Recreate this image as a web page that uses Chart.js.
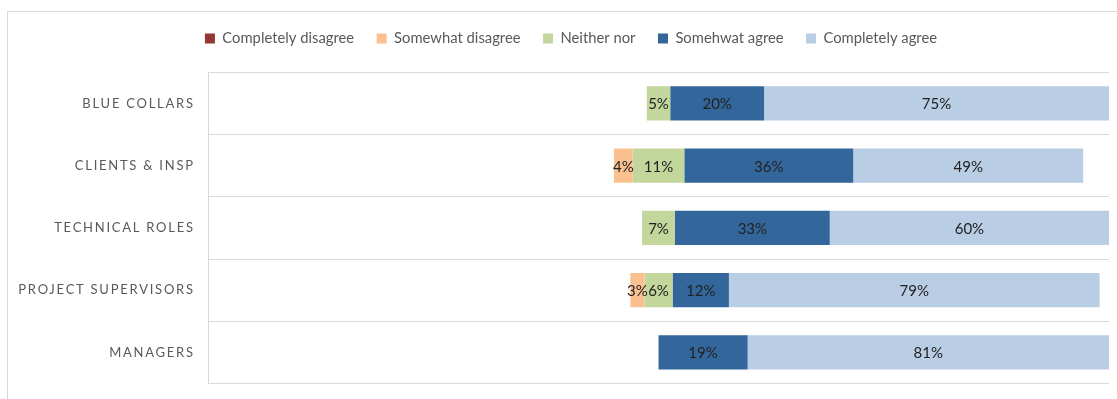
<!DOCTYPE html>
<html>
<head>
<meta charset="utf-8">
<title>Agreement by role</title>
<script src="https://cdn.jsdelivr.net/npm/chart.js@4.4.0/dist/chart.umd.min.js"></script>
<style>
  html, body { margin: 0; padding: 0; background: #ffffff; }
  #wrap { position: relative; width: 1117px; height: 399px; overflow: hidden; }
  #frame { position: absolute; left: 7px; top: 11px; width: 1200px; height: 500px;
           border: 1px solid #d9d9d9; box-sizing: border-box; }
  #wrap canvas { position: absolute; left: 0; top: 0; }
</style>
</head>
<body>
<div id="wrap">
  <div id="frame"></div>
  <canvas id="chart" width="1117" height="399"></canvas>
</div>
<script>
// Survey answers per role, in percent
const categories = ['BLUE COLLARS', 'CLIENTS & INSP', 'TECHNICAL ROLES', 'PROJECT SUPERVISORS', 'MANAGERS'];
const seriesNames = ['Completely disagree', 'Somewhat disagree', 'Neither nor', 'Somehwat agree', 'Completely agree'];
const completelyDisagree = [0, 0, 0, 0, 0];
const somewhatDisagree   = [0, 4, 0, 3, 0];
const neitherNor         = [5, 11, 7, 6, 0];
const somewhatAgree      = [20, 36, 33, 12, 19];
const completelyAgree    = [75, 49, 60, 79, 81];
const axisMin = -96;
const axisMax = 96;

const seriesValues = [completelyDisagree, somewhatDisagree, neitherNor, somewhatAgree, completelyAgree];
const seriesColors = ['#953735', '#fac090', '#c3d69b', '#33669a', '#b9cde5'];
const FONT = 'Lato, "Open Sans", sans-serif';

// Diverging layout: the neutral answer is split around zero,
// disagreement grows to the left, agreement to the right.
function segmentsFor(k) {
  const half = neitherNor[k] / 2;
  const sd = somewhatDisagree[k];
  const cd = completelyDisagree[k];
  const sa = somewhatAgree[k];
  const ca = completelyAgree[k];
  return [
    [-half - sd - cd, -half - sd],
    [-half - sd, -half],
    [-half, half],
    [half, half + sa],
    [half + sa, half + sa + ca]
  ];
}

const datasets = seriesNames.map((name, i) => ({
  label: name,
  data: categories.map((_, k) => seriesValues[i][k] > 0 ? segmentsFor(k)[i] : null),
  backgroundColor: seriesColors[i],
  borderWidth: 0,
  grouped: false,
  categoryPercentage: 0.55,
  barPercentage: 1
}));

// Percentage printed in the middle of each visible segment
const segmentLabels = {
  id: 'segmentLabels',
  afterDatasetsDraw(chart) {
    const { ctx, chartArea } = chart;
    ctx.save();
    ctx.font = '15px ' + FONT;
    ctx.fillStyle = '#222222';
    ctx.textAlign = 'center';
    ctx.textBaseline = 'middle';
    chart.data.datasets.forEach((ds, i) => {
      const meta = chart.getDatasetMeta(i);
      meta.data.forEach((bar, k) => {
        const v = seriesValues[i][k];
        if (!v) return;
        const { x, base, y } = bar.getProps(['x', 'base', 'y'], true);
        const l = Math.max(Math.min(x, base), chartArea.left);
        const r = Math.min(Math.max(x, base), chartArea.right);
        ctx.fillText(v + '%', (l + r) / 2, y + 1);
      });
    });
    ctx.restore();
  }
};

// Spaced-out role names to the left of the plot
const roleLabels = {
  id: 'roleLabels',
  afterDraw(chart) {
    const { ctx, chartArea } = chart;
    const yScale = chart.scales.y;
    const spacing = 1.75;
    ctx.save();
    ctx.font = '13px ' + FONT;
    ctx.letterSpacing = spacing + 'px';
    ctx.fillStyle = '#595959';
    ctx.textAlign = 'right';
    ctx.textBaseline = 'middle';
    categories.forEach((name, k) => {
      ctx.fillText(name, chartArea.left - 15 + spacing, yScale.getPixelForValue(k));
    });
    ctx.restore();
  }
};

// Fixed legend band height so the plot starts below it
const legendBand = {
  id: 'legendBand',
  beforeLayout(chart) {
    const lg = chart.legend;
    if (!lg || lg._banded) return;
    const fit = lg.fit;
    lg.fit = function () {
      fit.call(this);
      this.height = 63.8;
    };
    lg._banded = true;
  }
};

new Chart(document.getElementById('chart'), {
  type: 'bar',
  data: { labels: categories, datasets },
  options: {
    indexAxis: 'y',
    responsive: false,
    animation: false,
    layout: { padding: { left: 33, right: 8, top: 8.5, bottom: 15.5 } },
    scales: {
      x: { type: 'linear', min: axisMin, max: axisMax, display: false },
      y: {
        type: 'category',
        offset: true,
        grid: { offset: true, color: '#d9d9d9', lineWidth: 1, drawTicks: false },
        border: { display: true, color: '#d9d9d9', width: 1 },
        ticks: { display: false },
        afterFit(scale) { scale.width = 175; }
      }
    },
    plugins: {
      legend: {
        position: 'top',
        align: 'center',
        labels: {
          boxWidth: 10,
          boxHeight: 10,
          padding: 22.5,
          color: '#595959',
          font: { family: FONT, size: 14.8 }
        }
      },
      tooltip: { enabled: false }
    }
  },
  plugins: [segmentLabels, roleLabels, legendBand]
});
</script>
</body>
</html>
